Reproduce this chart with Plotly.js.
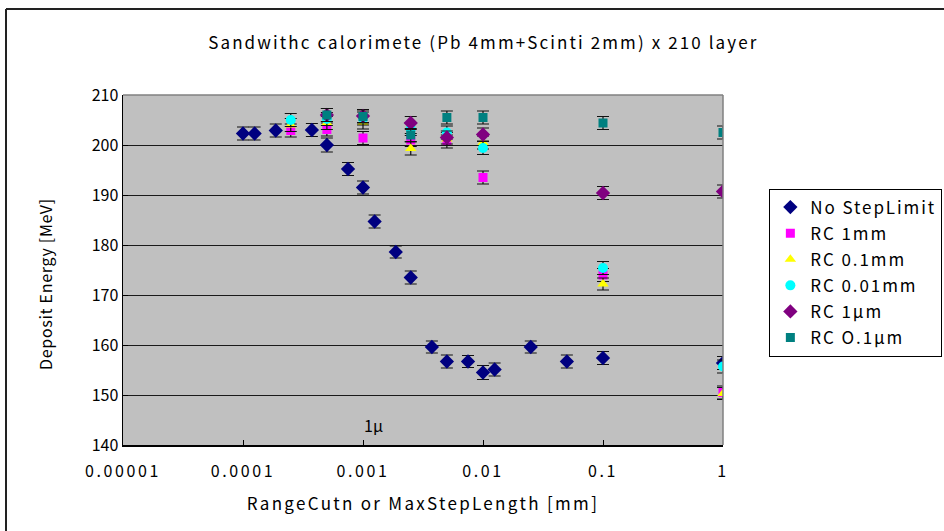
<!DOCTYPE html>
<html>
<head>
<meta charset="utf-8">
<script src="https://cdn.plot.ly/plotly-3.0.1.min.js"></script>
<style>
html,body{margin:0;padding:0;background:#fff;}
#chart{width:944px;height:531px;}
text.gtitle{letter-spacing:2.1px;}
text.xtitle{letter-spacing:2.3px;}
text.annotation-text.ylab{letter-spacing:0.7px;}
text.legendtext{letter-spacing:1.9px;}
g.xtick text{letter-spacing:2.6px;}
</style>
</head>
<body>
<div id="chart"></div>
<script>
// ---- data ----
const seriesNames = ["No StepLimit", "RC 1mm", "RC 0.1mm", "RC 0.01mm", "RC 1μm", "RC O.1μm"];

const xNoStep = [0.0001, 0.000125, 0.0001875, 0.000375, 0.0005, 0.00075, 0.001, 0.00125, 0.001875, 0.0025, 0.00375, 0.005, 0.0075, 0.01, 0.0125, 0.025, 0.05, 0.1, 1];
const yNoStep = [202.3, 202.3, 202.9, 203.0, 200.0, 195.2, 191.5, 184.7, 178.6, 173.5, 159.6, 156.7, 156.7, 154.5, 155.1, 159.6, 156.7, 157.4, 156.4];
const eNoStep = [1.3, 1.3, 1.3, 1.3, 1.4, 1.3, 1.3, 1.3, 1.2, 1.3, 1.2, 1.3, 1.2, 1.4, 1.3, 1.2, 1.3, 1.3, 1.3];

const xRC1mm = [0.00025, 0.0005, 0.001, 0.0025, 0.005, 0.01, 0.1, 1];
const yRC1mm = [202.9, 203.1, 201.4, 201.0, 200.7, 193.5, 174.0, 150.5];
const eRC1mm = [1.3, 1.3, 1.3, 1.3, 1.3, 1.3, 1.3, 1.3];

const xRC01mm = [0.00025, 0.0005, 0.001, 0.0025, 0.005, 0.01, 0.1, 1];
const yRC01mm = [204.0, 204.4, 204.5, 199.3, 201.2, 200.5, 172.2, 150.3];
const eRC01mm = [1.3, 1.3, 1.3, 1.3, 1.3, 1.3, 1.2, 1.2];

const xRC001mm = [0.00025, 0.0005, 0.001, 0.0025, 0.005, 0.01, 0.1, 1];
const yRC001mm = [205.0, 205.2, 205.3, 203.2, 202.5, 199.4, 175.4, 155.7];
const eRC001mm = [1.3, 1.3, 1.3, 1.3, 1.3, 1.3, 1.3, 1.3];

const xRC1um = [0.0005, 0.001, 0.0025, 0.005, 0.01, 0.1, 1];
const yRC1um = [206.0, 205.8, 204.4, 201.5, 202.1, 190.4, 190.7];
const eRC1um = [1.3, 1.3, 1.3, 1.3, 1.3, 1.3, 1.3];

const xRC01um = [0.0005, 0.001, 0.0025, 0.005, 0.01, 0.1, 1];
const yRC01um = [206.0, 205.7, 202.0, 205.5, 205.5, 204.4, 202.5];
const eRC01um = [1.3, 1.3, 1.3, 1.3, 1.3, 1.3, 1.3];

const xTickVals = [0.00001, 0.0001, 0.001, 0.01, 0.1, 1];
const xTickText = ["0.00001", "0.0001", "0.001", "0.01", "0.1", "1"];
const yTickVals = [140, 150, 160, 170, 180, 190, 200, 210];

// ---- chart ----
const FONT = '"Noto Sans CJK JP", "Liberation Sans", sans-serif';
const colors = ["#000080", "#FF00FF", "#FFFF00", "#00FFFF", "#800080", "#008080"];
const symbols = ["diamond", "square", "triangle-up", "circle", "diamond", "square"];
const sizes = [11, 9, 10, 10, 11, 9];
const xs = [xNoStep, xRC1mm, xRC01mm, xRC001mm, xRC1um, xRC01um];
const ys = [yNoStep, yRC1mm, yRC01mm, yRC001mm, yRC1um, yRC01um];
const es = [eNoStep, eRC1mm, eRC01mm, eRC001mm, eRC1um, eRC01um];

const traces = seriesNames.map((n, i) => ({
  type: 'scatter', mode: 'markers', name: n,
  x: xs[i], y: ys[i],
  legendgroup: 'g' + i,
  error_y: {type: 'data', array: es[i], visible: true, color: '#111', thickness: 1.2, width: 6},
  marker: {symbol: symbols[i], color: colors[i], size: sizes[i], line: {width: 0}}
}));

const layout = {
  width: 944, height: 531,
  margin: {l: 123, r: 221, t: 95, b: 86},
  paper_bgcolor: '#ffffff', plot_bgcolor: '#C0C0C0',
  font: {family: FONT, size: 15, color: '#000'},
  title: {text: 'Sandwithc calorimete (Pb 4mm+Scinti 2mm) x 210 layer', x: 0.512, xanchor: 'center', y: 0.918, yanchor: 'middle', font: {family: FONT, size: 17, color: '#000'}},
  xaxis: {
    type: 'log', range: [-5, 0], tickvals: xTickVals, ticktext: xTickText,
    ticks: 'inside', ticklen: 5, tickcolor: '#000', showgrid: false, zeroline: false,
    showline: true, linecolor: '#000', linewidth: 1.5,
    tickfont: {family: FONT, size: 16}, ticklabelstandoff: 11,
    title: {text: 'RangeCutn or MaxStepLength [mm]', font: {family: FONT, size: 17}, standoff: 17}
  },
  yaxis: {
    range: [140, 210], tickvals: yTickVals,
    ticks: 'inside', ticklen: 5, tickcolor: '#000', showgrid: true, gridcolor: '#1a1a1a', gridwidth: 1,
    zeroline: false, showline: true, linecolor: '#000', linewidth: 1.5,
    tickfont: {family: FONT, size: 16}
  },
  legend: {
    xref: 'container', yref: 'container',
    x: 0.815, xanchor: 'left', y: 0.645, yanchor: 'top',
    bgcolor: '#fff', bordercolor: '#000', borderwidth: 1,
    font: {family: FONT, size: 17}, tracegroupgap: 1, itemclick: false
  },
  showlegend: true,
  annotations: [
    {text: '1μ', xref: 'paper', yref: 'paper', x: 0.417, y: 0.057, yanchor: 'middle', showarrow: false, font: {family: FONT, size: 16}},
    {text: 'Deposit Energy [MeV]', xref: 'paper', yref: 'paper', x: -0.13, y: 0.46, xanchor: 'center', yanchor: 'middle', textangle: -90, showarrow: false, font: {family: FONT, size: 16}}
  ],
  shapes: [
    {type: 'line', xref: 'paper', yref: 'paper', x0: 0, x1: 1, y0: 1, y1: 1, line: {color: '#808080', width: 1.5}},
    {type: 'line', xref: 'paper', yref: 'paper', x0: 1, x1: 1, y0: 0, y1: 1, line: {color: '#808080', width: 1.5}},
    {type: 'line', xref: 'paper', yref: 'paper', x0: -0.195, x1: 1.4, y0: 1.246, y1: 1.246, line: {color: '#222', width: 2}},
    {type: 'line', xref: 'paper', yref: 'paper', x0: -0.195, x1: -0.195, y0: 1.246, y1: -0.3, line: {color: '#222', width: 2}}
  ]
};

Plotly.newPlot('chart', traces, layout, {displayModeBar: false, staticPlot: true}).then(function () {
  var anns = document.querySelectorAll('text.annotation-text');
  if (anns.length > 1) { anns[1].classList.add('ylab'); }
});
</script>
</body>
</html>
